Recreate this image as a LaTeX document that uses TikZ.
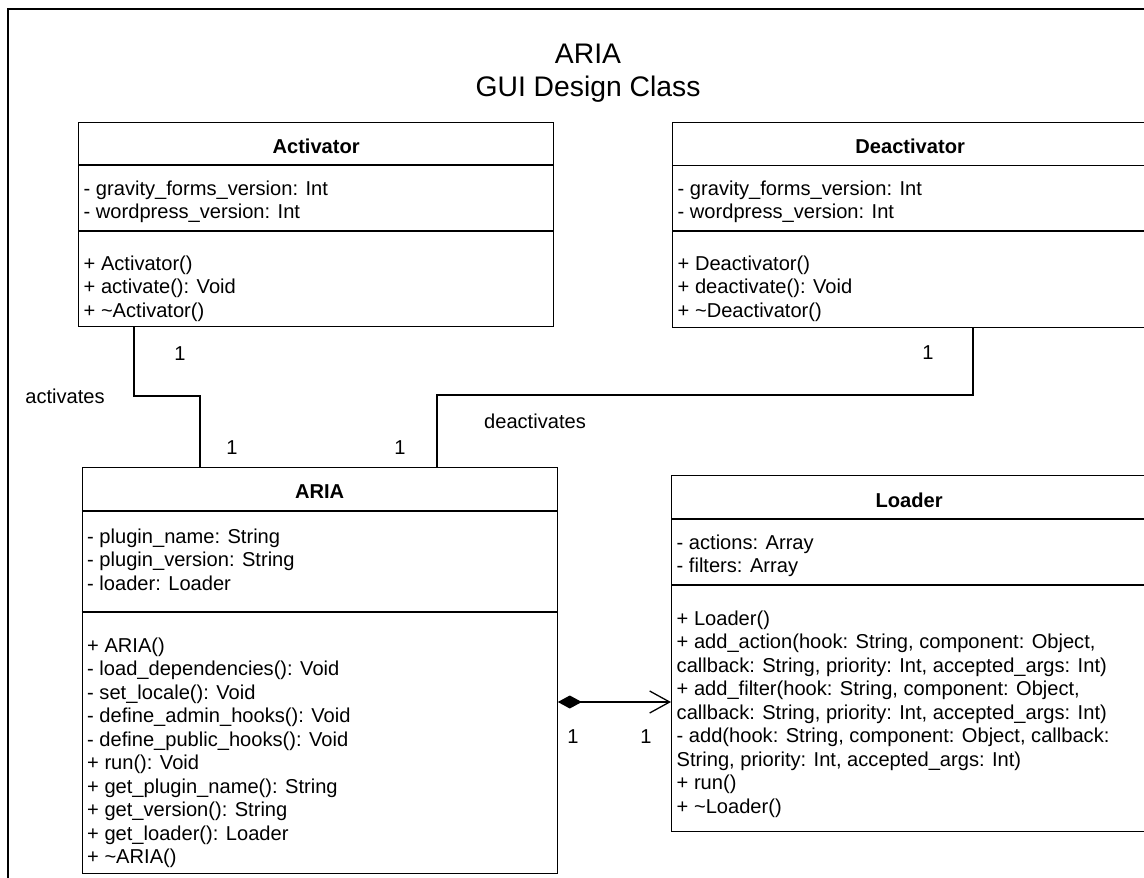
\documentclass[tikz,border=0pt]{standalone}
\usepackage{fontspec}
\setmainfont{Liberation Sans}
\usetikzlibrary{arrows.meta,calc}
% stacked member lines, baseline on the first line
\newcommand\umlrows[1]{\begin{tabular}[t]{@{}l@{}}#1\end{tabular}}
\begin{document}
\begin{tikzpicture}[x=1pt,y=-1pt,
  txt/.style={font=\fontsize{20.1}{23.5}\selectfont, inner sep=0pt},
  classbox/.style={draw, line width=1.3pt, anchor=north west, minimum width=475pt, inner sep=0pt},
  classname/.style={txt, font=\fontsize{20.1}{23.5}\selectfont\bfseries, anchor=base},
  rows/.style={txt, anchor=base west},
  divider/.style={line width=1.3pt},
  conn/.style={line width=1.3pt},
  mult/.style={txt, anchor=base},
]
\clip (0,0) rectangle (1144,878);
% outer frame
\draw[line width=2pt] (8,9) rectangle (1170,900);

% title
\node[font=\fontsize{28.3}{33}\selectfont, inner sep=0pt, anchor=base] (title) at (588,63)
  {\begin{tabular}[t]{@{}c@{}}ARIA\\GUI Design Class\end{tabular}};

% Activator
\node[classbox, minimum height=204pt] (act) at (78,122) {};
\draw[divider] ($(act.north west)+(0,43)$) -- ($(act.north east)+(0,43)$);
\draw[divider] ($(act.north west)+(0,109)$) -- ($(act.north east)+(0,109)$);
\node[classname] (actname) at ($(act.north)+(0,31)$) {Activator};
\node[rows] (actattr) at ($(act.north west)+(5.5,73)$)
  {\umlrows{- gravity\_forms\_version: Int\\- wordpress\_version: Int}};
\node[rows] (actops) at ($(act.north west)+(5.5,148)$)
  {\umlrows{+ Activator()\\+ activate(): Void\\+ \textasciitilde Activator()}};

% Deactivator
\node[classbox, minimum height=205pt] (deact) at (672,122) {};
\draw[divider] ($(deact.north west)+(0,43.5)$) -- ($(deact.north east)+(0,43.5)$);
\draw[divider] ($(deact.north west)+(0,109)$) -- ($(deact.north east)+(0,109)$);
\node[classname] (deactname) at ($(deact.north)+(0,31)$) {Deactivator};
\node[rows] (deactattr) at ($(deact.north west)+(5.5,73)$)
  {\umlrows{- gravity\_forms\_version: Int\\- wordpress\_version: Int}};
\node[rows] (deactops) at ($(deact.north west)+(5.5,148)$)
  {\umlrows{+ Deactivator()\\+ deactivate(): Void\\+ \textasciitilde Deactivator()}};

% ARIA
\node[classbox, minimum height=406pt] (aria) at (81.5,467) {};
\draw[divider] ($(aria.north west)+(0,44)$) -- ($(aria.north east)+(0,44)$);
\draw[divider] ($(aria.north west)+(0,145)$) -- ($(aria.north east)+(0,145)$);
\node[classname] (arianame) at ($(aria.north)+(0,31)$) {ARIA};
\node[rows] (ariaattr) at ($(aria.north west)+(5.5,76)$)
  {\umlrows{- plugin\_name: String\\- plugin\_version: String\\- loader: Loader}};
\node[rows] (ariaops) at ($(aria.north west)+(5.5,185)$)
  {\umlrows{+ ARIA()\\- load\_dependencies(): Void\\- set\_locale(): Void\\
  - define\_admin\_hooks(): Void\\- define\_public\_hooks(): Void\\+ run(): Void\\
  + get\_plugin\_name(): String\\+ get\_version(): String\\+ get\_loader(): Loader\\
  + \textasciitilde ARIA()}};

% Loader
\node[classbox, minimum height=356pt] (loader) at (671,475) {};
\draw[divider] ($(loader.north west)+(0,44)$) -- ($(loader.north east)+(0,44)$);
\draw[divider] ($(loader.north west)+(0,110)$) -- ($(loader.north east)+(0,110)$);
\node[classname] (loadername) at ($(loader.north)+(0,32)$) {Loader};
\node[rows] (loaderattr) at ($(loader.north west)+(5.5,74)$)
  {\umlrows{- actions: Array\\- filters: Array}};
\node[rows] (loaderops) at ($(loader.north west)+(5.5,150)$)
  {\umlrows{+ Loader()\\
  + add\_action(hook: String, component: Object,\\
  callback: String, priority: Int, accepted\_args: Int)\\
  + add\_filter(hook: String, component: Object,\\
  callback: String, priority: Int, accepted\_args: Int)\\
  - add(hook: String, component: Object, callback:\\
  String, priority: Int, accepted\_args: Int)\\
  + run()\\+ \textasciitilde Loader()}};

% associations
\draw[conn] (act.south -| 134,0) |- (200,396) -- (aria.north -| 200,0);
\draw[conn] (deact.south -| 973,0) |- (437,395) -- (aria.north -| 437,0);
\draw[conn, {Diamond[length=24pt,width=13pt]}-{Straight Barb[length=20pt,width=22pt]}]
  (aria.east |- 0,702) -- (loader.west |- 0,702);

% multiplicities and role names
\node[mult] (m1) at (180,360) {1};
\node[mult] (m2) at (232,454) {1};
\node[mult] (m3) at (400,454) {1};
\node[mult] (m4) at (928,359) {1};
\node[mult] (m5) at (573,743) {1};
\node[mult] (m6) at (646,743) {1};
\node[mult] (lblact) at (65,403) {activates};
\node[mult] (lbldeact) at (535,428) {deactivates};
\end{tikzpicture}
\end{document}
